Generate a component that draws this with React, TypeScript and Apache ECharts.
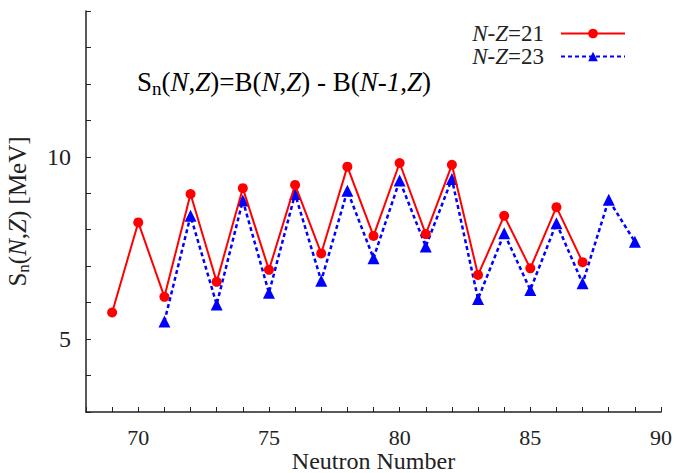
import React, { useEffect, useRef } from "react";
import * as echarts from "echarts";

const nz21N = [69, 70, 71, 72, 73, 74, 75, 76, 77, 78, 79, 80, 81, 82, 83, 84, 85, 86, 87];
const nz21S = [5.73, 8.2, 6.16, 8.98, 6.57, 9.14, 6.9, 9.23, 7.35, 9.73, 7.83, 9.83, 7.88, 9.78, 6.76, 8.38, 6.94, 8.62, 7.11];
const nz23N = [71, 72, 73, 74, 75, 76, 77, 78, 79, 80, 81, 82, 83, 84, 85, 86, 87, 88, 89];
const nz23S = [5.48, 8.38, 5.95, 8.8, 6.27, 8.98, 6.6, 9.07, 7.22, 9.35, 7.54, 9.39, 6.1, 7.9, 6.35, 8.18, 6.53, 8.82, 7.67];
const xLabels = [70, 75, 80, 85, 90];
const yLabels = [5, 10];
const seriesNames = ["N-Z=21", "N-Z=23"];

const FONT = "Liberation Serif";
const INK = "#222";

function richSet(size: number, lh: number, subSize: number) {
  return {
    a: { fontFamily: FONT, fontSize: size, color: INK, lineHeight: lh },
    i: { fontFamily: FONT, fontSize: size, color: INK, fontStyle: "italic", lineHeight: lh },
    sub: { fontFamily: FONT, fontSize: subSize, color: INK, verticalAlign: "bottom", lineHeight: subSize },
  };
}

export default function App() {
  const ref = useRef<HTMLDivElement>(null);
  useEffect(() => {
    if (!ref.current) return;
    const chart = echarts.init(ref.current, undefined, { renderer: "svg" });
    chart.setOption({
      animation: false,
      backgroundColor: "#fff",
      textStyle: { fontFamily: FONT },
      grid: { left: 86, right: 17, top: 11, bottom: 61, outerBoundsMode: "none", containLabel: false },
      legend: {
        right: 47,
        top: 17,
        orient: "vertical",
        align: "right",
        itemWidth: 64,
        itemHeight: 12,
        itemGap: 0,
        data: seriesNames,
        formatter: (name: string) => {
          const num = name.split("=")[1];
          return `{i|N}{a|-}{i|Z}{a|=${num}}`;
        },
        textStyle: {
          fontFamily: FONT,
          padding: [0, 12, 0, 0],
          rich: {
            a: { fontFamily: FONT, fontSize: 23, color: INK, lineHeight: 24 },
            i: { fontFamily: FONT, fontSize: 23, color: INK, fontStyle: "italic", lineHeight: 24 },
          },
        },
      },
      xAxis: {
        type: "value",
        min: 68,
        max: 90,
        interval: 1,
        name: "Neutron Number",
        nameLocation: "middle",
        nameGap: 37,
        nameMoveOverlap: false,
        nameTextStyle: { fontFamily: FONT, fontSize: 24, color: INK },
        axisLine: { show: true, lineStyle: { color: INK, width: 1.5 } },
        axisTick: { show: true, inside: true, length: 5, lineStyle: { color: INK, width: 1 } },
        axisLabel: {
          margin: 14,
          fontFamily: FONT,
          fontSize: 22,
          color: INK,
          formatter: (v: number) => (xLabels.includes(v) ? String(v) : ""),
        },
        splitLine: { show: false },
      },
      yAxis: {
        type: "value",
        min: 3,
        max: 14,
        interval: 1,
        name: "{a|S}{sub|n}{a|(}{i|N}{a|,}{i|Z}{a|) [MeV]}",
        nameLocation: "middle",
        nameRotate: 90,
        nameGap: 54,
        nameMoveOverlap: false,
        nameTextStyle: { fontFamily: FONT, rich: richSet(25, 30, 17) },
        axisLine: { show: true, lineStyle: { color: INK, width: 1.5 } },
        axisTick: { show: true, inside: true, length: 5, lineStyle: { color: INK, width: 1 } },
        axisLabel: {
          margin: 15,
          fontFamily: FONT,
          fontSize: 24,
          color: INK,
          formatter: (v: number) => (yLabels.includes(v) ? String(v) : ""),
        },
        splitLine: { show: false },
      },
      graphic: [
        {
          type: "text",
          left: 137,
          top: 68,
          style: {
            fontFamily: FONT,
            text: "{a|S}{sub|n}{a|(}{i|N}{a|,}{i|Z}{a|)=B(}{i|N}{a|,}{i|Z}{a|) - B(}{i|N-1}{a|,}{i|Z}{a|)}",
            rich: richSet(27, 32, 19),
          },
        },
      ],
      series: [
        {
          name: seriesNames[0],
          type: "line",
          data: nz21N.map((n, k) => [n, nz21S[k]]),
          symbol: "circle",
          symbolSize: 10,
          itemStyle: { color: "#ff0000" },
          lineStyle: { color: "#ff0000", width: 2 },
          z: 3,
        },
        {
          name: seriesNames[1],
          type: "line",
          data: nz23N.map((n, k) => [n, nz23S[k]]),
          symbol: "triangle",
          symbolSize: 12,
          itemStyle: { color: "#0000ff" },
          lineStyle: { color: "#0000ff", width: 2.5, type: [4, 3] },
          z: 2,
        },
      ],
    });
    return () => chart.dispose();
  }, []);
  return (
    <div
      ref={ref}
      style={{ position: "absolute", left: 0, top: 0, width: 678, height: 473 }}
    />
  );
}
